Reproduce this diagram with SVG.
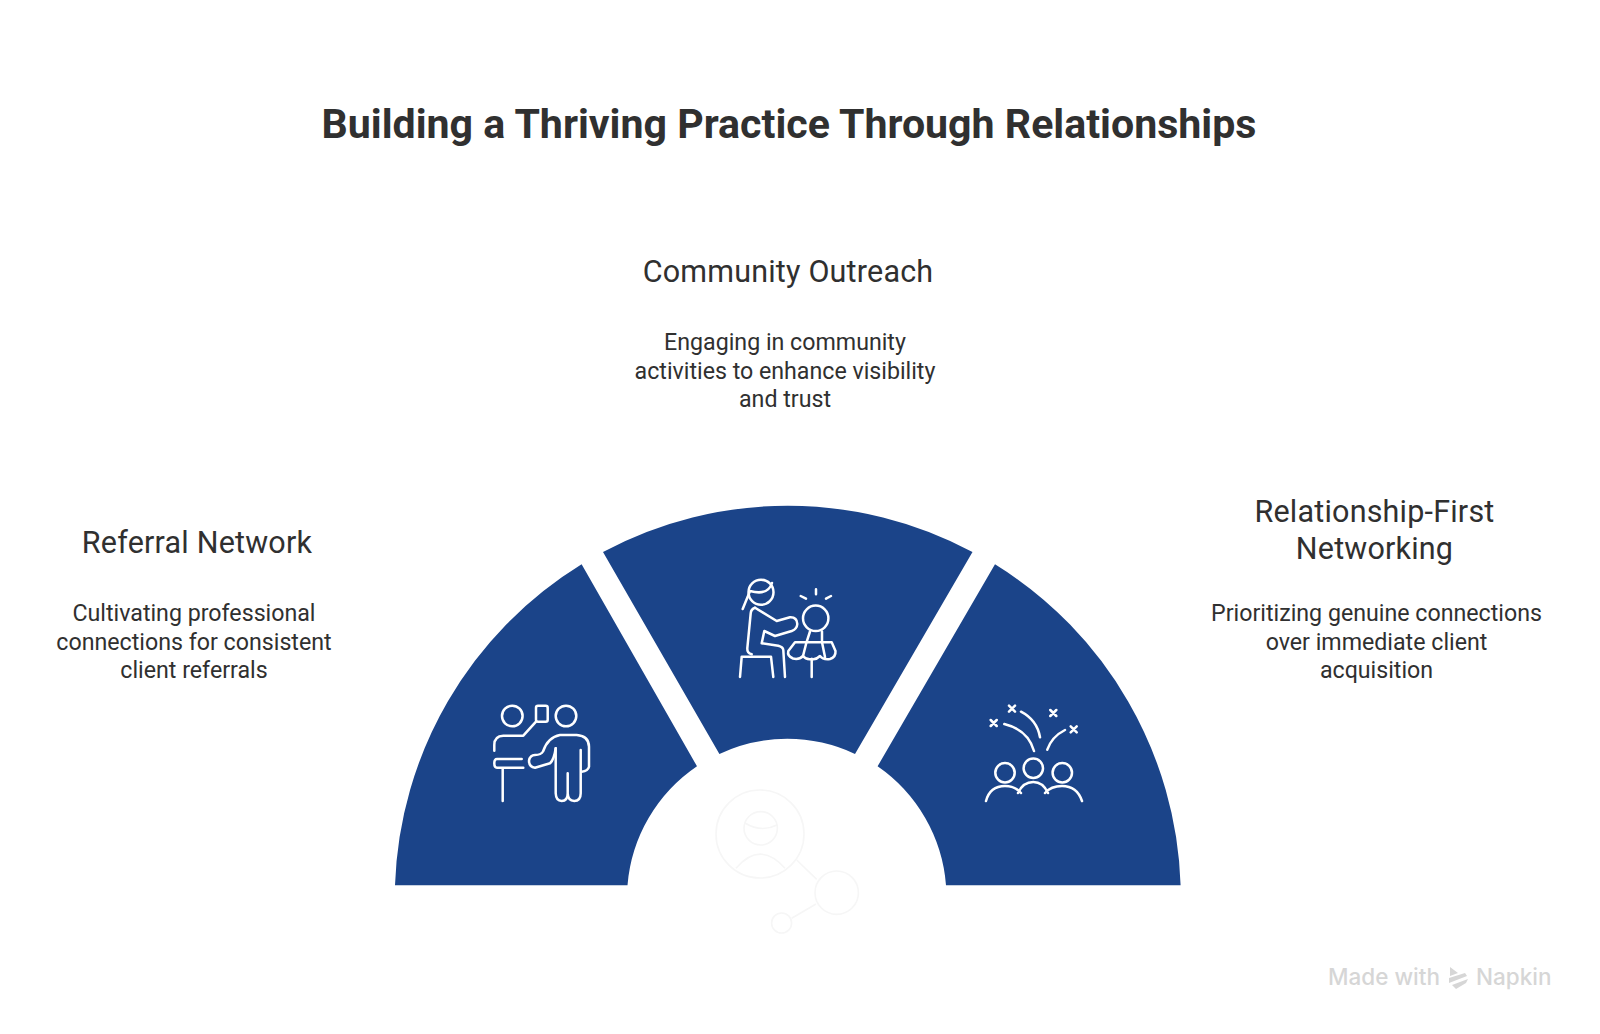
<svg xmlns="http://www.w3.org/2000/svg" width="1600" height="1034" viewBox="0 0 1600 1034">
<style>
text{font-family:Roboto,"Liberation Sans",sans-serif;fill:#303030;text-anchor:middle}
.t{font-size:41.1px;font-weight:700}
.h{font-size:30.5px;letter-spacing:.2px}
.b{font-size:23.2px}
.seg{fill:#1b4489}
.i{fill:none;stroke:#fff;stroke-width:2.5;stroke-linecap:round;stroke-linejoin:round}
.g{fill:none;stroke:#f6f6f6;stroke-width:1.6}
.w{font-family:Inter,"Noto Sans",sans-serif;font-size:22.5px;font-weight:500;fill:#d6d6d6;text-anchor:start}
</style>
<rect width="1600" height="1034" fill="#fff"/>
<text class="t" x="789" y="137.6">Building a Thriving Practice Through Relationships</text>
<g id="center-icon" class="g">
<circle cx="760" cy="834" r="44"/><circle cx="760.7" cy="828.3" r="16.7"/>
<path d="M745,823Q761,833 777,825M736,868.3Q760,840 785,868.3M796.7,860L816.7,879.3M816,904L791.7,918.3"/>
<circle cx="836.7" cy="892.7" r="21.7"/><circle cx="781.6" cy="923" r="10"/>
</g>
<g id="node-referral">
<path class="seg" d="M395,885.2A392,392 0 0 1 581.6,564.3L697,766.3A159.5,159.5 0 0 0 627.5,885.2Z"/>
<g class="i">
<circle cx="512.3" cy="716" r="10.3"/><rect x="536" y="705.7" width="11.7" height="16" rx="2"/><circle cx="566" cy="716" r="10.3"/>
<path d="M536,721.7L523.3,735.7H503.3Q494.3,736 494.3,745V750.7"/>
<path d="M521.7,759H497Q494.3,759 494.3,763.3Q494.3,767.7 497,767.7H523.3M502.7,767.7V801"/>
<path d="M555.7,748.3Q554,760 550,763.3L535,767.7Q529,767 529,760.7Q530,755 535,755Q541,755 543,751.5Q548,737 560,735H576.7Q589,736 589,746.7V766.7Q588,771 581.7,771.7"/>
<path d="M555.7,748.3V793.3Q556,801 561.7,801Q567.7,801 567.7,793.3V773.3M567.7,793.3Q568,801 574.2,801Q580.7,801 580.7,793.3V750"/>
</g>
</g>
<g id="node-community">
<path class="seg" d="M603,552A392,392 0 0 1 972.5,552L855,754A159.5,159.5 0 0 0 719.4,754Z"/>
<g class="i">
<circle cx="761" cy="592.3" r="12.5"/>
<path d="M750,591Q768,596 772,583M750,591L742.7,609"/>
<path d="M755,607.7L776.7,621L790,617.3Q797,617 797.3,624Q797,629 791.7,631L775,636L764.3,631L761.7,643.3L778.3,645.7Q783,647 783.3,650L785,677"/>
<path d="M755,607.7Q751,609 750.7,613.3L747.3,648.3Q747,653 751.7,654.3"/>
<path d="M740,677L741.7,656.7H771L773.3,677"/>
<circle cx="815.7" cy="618.3" r="12.7"/>
<path d="M816,589.3V594.3M800.7,596L806,598.7M831,596L826,598.7"/>
<path d="M795,642.3H831.7L835.5,651Q836,657 830,659Q823,660 820,656Q816,660 811.7,659Q806,660 803,656Q799,660 793,658.5Q787,656 788.3,651Z"/>
<path d="M810,631.5L806.5,642.3L803,656M822,631.5L822,642.3L825,657M811.7,659V677"/>
</g>
</g>
<g id="node-relationship">
<path class="seg" d="M995,564.3A392,392 0 0 1 1180.6,885.2H946A159.5,159.5 0 0 0 877.6,766.3Z"/>
<g class="i">
<path d="M990.7,720L996.7,726M996.7,720L990.7,726M1009,705.7L1015,711.7M1015,705.7L1009,711.7M1050.3,710L1056.3,716M1056.3,710L1050.3,716M1070.7,726.3L1076.7,732.3M1076.7,726.3L1070.7,732.3"/>
<path d="M1004.3,724Q1028,730 1034,751M1021,711.7Q1037,720 1040,737.3M1065,730Q1051.7,736.7 1047.3,749.7"/>
<circle cx="1005" cy="772.7" r="9.7"/><circle cx="1033.3" cy="768.3" r="9.7"/><circle cx="1062.3" cy="772.7" r="9.7"/>
<path d="M986,801Q990,786 1005,786Q1015,786 1021,793M1018,793Q1023,782 1033.3,782Q1043,782 1048,793M1045,793Q1051,786 1062,786Q1077,786 1082,801"/>
</g>
</g>
<g id="labels-community">
<text class="h" x="788" y="282">Community Outreach</text>
<text class="b" x="785" y="349.7">Engaging in community</text>
<text class="b" x="785" y="378.5">activities to enhance visibility</text>
<text class="b" x="785" y="407">and trust</text>
</g>
<g id="labels-referral">
<text class="h" x="197" y="553">Referral Network</text>
<text class="b" x="194" y="620.7">Cultivating professional</text>
<text class="b" x="194" y="649.5">connections for consistent</text>
<text class="b" x="194" y="678">client referrals</text>
</g>
<g id="labels-relationship">
<text class="h" x="1374.5" y="522">Relationship-First</text>
<text class="h" x="1374.5" y="559">Networking</text>
<text class="b" x="1376.5" y="620.7">Prioritizing genuine connections</text>
<text class="b" x="1376.5" y="649.5">over immediate client</text>
<text class="b" x="1376.5" y="678">acquisition</text>
</g>
<g id="watermark">
<text class="w" x="1328" y="985">Made with</text>
<path fill="#d6d6d6" d="M1450,967L1458,973L1450,976ZM1449,978L1465,973L1467,976L1449,983ZM1452,985L1468,979L1466,983L1456,989Z"/>
<text class="w" x="1476" y="985">Napkin</text>
</g>
</svg>
